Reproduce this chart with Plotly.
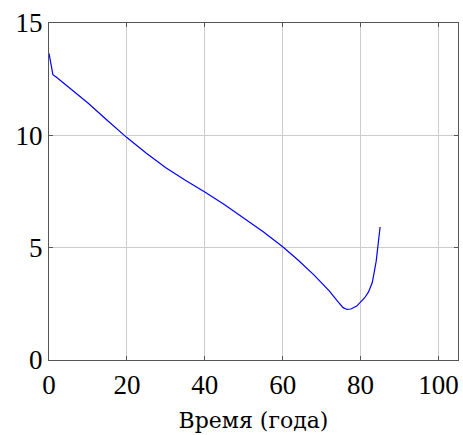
import plotly.graph_objects as go

# Curve
t = [0, 1, 2, 5, 10, 15, 20, 25, 30, 35, 40, 45, 50, 55, 60, 64, 68, 72, 74,
     75.5, 76.5, 77.5, 79, 80, 81, 82, 83, 84, 84.5, 85]
v = [13.65, 12.7, 12.57, 12.15, 11.44, 10.66, 9.9, 9.2, 8.56, 8.0, 7.48, 6.92,
     6.33, 5.71, 5.04, 4.44, 3.79, 3.07, 2.63, 2.33, 2.25, 2.27, 2.4, 2.56, 2.76,
     3.02, 3.45, 4.4, 5.05, 5.92]

x_ticks = [0, 20, 40, 60, 80, 100]
y_ticks = [0, 5, 10, 15]

fig = go.Figure()
fig.add_trace(go.Scatter(x=t, y=v, mode="lines",
                         line=dict(color="#0000ff", width=1.2),
                         showlegend=False))

axis_style = dict(showline=True, linecolor="#555555", linewidth=1.3, mirror="allticks",
                  ticks="inside", ticklen=4, tickcolor="#555555",
                  showgrid=True, gridcolor="#cccccc", gridwidth=1, zeroline=False,
                  automargin=False,
                  tickfont=dict(family="Liberation Serif", size=27, color="black"))

fig.update_xaxes(range=[0, 105], tickvals=x_ticks,
                 title=dict(text="Время (года)", standoff=14,
                            font=dict(family="DejaVu Serif", size=22, color="black")),
                 **axis_style)
fig.update_yaxes(range=[0, 15], tickvals=y_ticks, **axis_style)

fig.update_layout(width=463, height=435,
                  margin=dict(l=49, r=5, t=23, b=75),
                  plot_bgcolor="white", paper_bgcolor="white")

# the page body has a default 8px margin; drop it so the figure sits at 0,0
fig.write_html("out.html", config={"displayModeBar": False},
               post_script="document.body.style.margin='0';")
